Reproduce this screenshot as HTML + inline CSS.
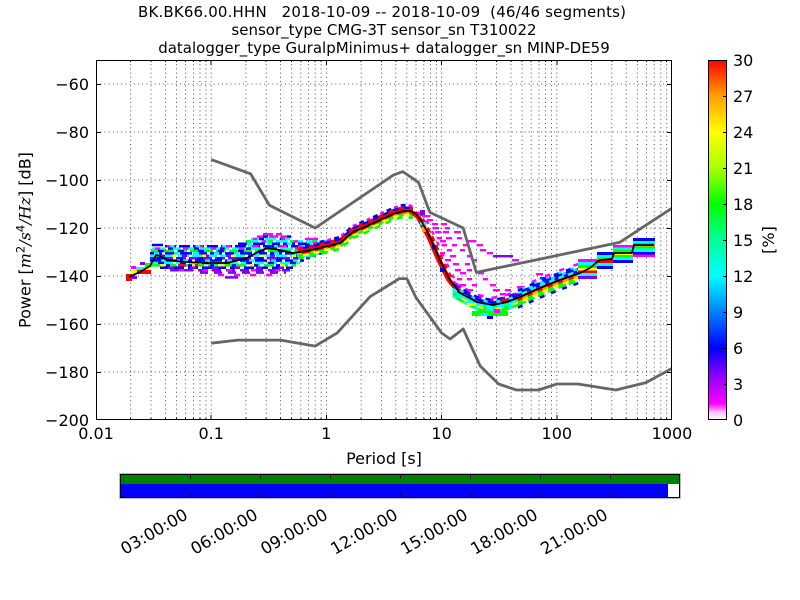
<!DOCTYPE html>
<html><head><meta charset="utf-8"><style>
html,body{margin:0;padding:0;background:#fff;}
svg{display:block;}
text{font-family:"DejaVu Sans","Liberation Sans",sans-serif;fill:#000;}
</style></head><body>
<svg width="800" height="600" viewBox="0 0 800 600" xmlns="http://www.w3.org/2000/svg">
<defs>
<linearGradient id="cb" x1="0" y1="1" x2="0" y2="0">
<stop offset="0" stop-color="#ffffff"/>
<stop offset="0.02" stop-color="#ffc8ff"/>
<stop offset="0.045" stop-color="#ff00ff"/>
<stop offset="0.12" stop-color="#9000ff"/>
<stop offset="0.2" stop-color="#0000ff"/>
<stop offset="0.3" stop-color="#0080ff"/>
<stop offset="0.4" stop-color="#00ffff"/>
<stop offset="0.5" stop-color="#00ff99"/>
<stop offset="0.6" stop-color="#00ff00"/>
<stop offset="0.7" stop-color="#aaff00"/>
<stop offset="0.8" stop-color="#ffff00"/>
<stop offset="0.9" stop-color="#ffa000"/>
<stop offset="1" stop-color="#ff0000"/>
</linearGradient>
<clipPath id="ax"><rect x="96" y="60" width="576" height="360"/></clipPath>
</defs>
<rect width="800" height="600" fill="#fff"/>

<!-- title -->
<g font-size="15" text-anchor="middle">
<text x="382" y="17" textLength="488" lengthAdjust="spacing">BK.BK66.00.HHN&#160;&#160;&#160;2018-10-09 -- 2018-10-09&#160;&#160;(46/46 segments)</text>
<text x="384" y="35">sensor_type CMG-3T sensor_sn T310022</text>
<text x="384" y="53">datalogger_type GuralpMinimus+ datalogger_sn MINP-DE59</text>
</g>

<!-- grid -->
<g stroke="#222" stroke-width="0.8" stroke-dasharray="1 3.2" fill="none">
<path d="M130.7,60V420M151,60V420M165.4,60V420M176.5,60V420M185.6,60V420M193.4,60V420M200,60V420M205.9,60V420M211.2,60V420M245.9,60V420M266.2,60V420M280.6,60V420M291.7,60V420M300.8,60V420M308.6,60V420M315.2,60V420M321.1,60V420M326.4,60V420M361.1,60V420M381.4,60V420M395.8,60V420M406.9,60V420M416,60V420M423.8,60V420M430.4,60V420M436.3,60V420M441.6,60V420M476.3,60V420M496.6,60V420M511,60V420M522.1,60V420M531.2,60V420M539,60V420M545.6,60V420M551.5,60V420M556.8,60V420M591.5,60V420M611.8,60V420M626.2,60V420M637.3,60V420M646.4,60V420M654.2,60V420M660.8,60V420M666.7,60V420"/>
<path d="M96,84H672M96,132H672M96,180H672M96,228H672M96,276H672M96,324H672M96,372H672"/>
</g>

<g clip-path="url(#ax)">
<!-- Region A -->
<g>
<rect x="126" y="274" width="6" height="7" fill="#ff0000"/>
<rect x="132" y="276" width="5" height="3" fill="#8000ff"/>
<rect x="131" y="270" width="6" height="4" fill="#ffff00"/>
<rect x="131" y="266" width="5" height="3" fill="#ff00ff"/>
<rect x="136" y="267" width="9" height="3" fill="#00ffff"/>
<rect x="137" y="270" width="14" height="4" fill="#ff0000"/>
<rect x="140" y="262" width="5" height="3" fill="#8000ff"/>
<rect x="145" y="263" width="7" height="4" fill="#00ff00"/>
<rect x="145" y="267" width="6" height="3" fill="#ffff00"/>
<rect x="150" y="252" width="6" height="3" fill="#ff00ff"/>
<rect x="153" y="257" width="6" height="3" fill="#ffff00"/>
</g>

<!-- Region B rows -->
<g stroke-width="2.5" fill="none">
<line x1="263" x2="282" y1="234.2" y2="234.2" stroke="#ff00ff" stroke-dasharray="10 3"/>
<line x1="257" x2="291" y1="236.6" y2="236.6" stroke="#ff00ff" stroke-dasharray="9 3"/>
<line x1="257" x2="291" y1="236.6" y2="236.6" stroke="#0000ff" stroke-dasharray="5 19" stroke-dashoffset="-6"/>
<line x1="251" x2="293" y1="239" y2="239" stroke="#00ffff" stroke-dasharray="11 3"/>
<line x1="251" x2="293" y1="239" y2="239" stroke="#0000ff" stroke-dasharray="5 16" stroke-dashoffset="-8"/>
<line x1="251" x2="293" y1="239" y2="239" stroke="#ff00ff" stroke-dasharray="4 24" stroke-dashoffset="-2"/>
<line x1="305" x2="318" y1="239" y2="239" stroke="#ff00ff"/>
<line x1="246" x2="340" y1="241.4" y2="241.4" stroke="#00ffff" stroke-dasharray="12 3"/>
<line x1="246" x2="340" y1="241.4" y2="241.4" stroke="#00ff00" stroke-dasharray="5 17"/>
<line x1="246" x2="340" y1="241.4" y2="241.4" stroke="#ff00ff" stroke-dasharray="4 28" stroke-dashoffset="-16"/>
<line x1="238" x2="340" y1="243.8" y2="243.8" stroke="#0000ff" stroke-dasharray="12 3"/>
<line x1="238" x2="340" y1="243.8" y2="243.8" stroke="#00ffff" stroke-dasharray="5 15" stroke-dashoffset="-9"/>
<line x1="152" x2="163" y1="245" y2="245" stroke="#0000ff"/>
<line x1="165" x2="338" y1="246.2" y2="246.2" stroke="#0000ff" stroke-dasharray="11 3"/>
<line x1="165" x2="338" y1="246.2" y2="246.2" stroke="#ff00ff" stroke-dasharray="8 20" stroke-dashoffset="-30"/>
<line x1="165" x2="338" y1="246.2" y2="246.2" stroke="#00ffff" stroke-dasharray="4 22" stroke-dashoffset="-5"/>
<line x1="152" x2="333" y1="248.6" y2="248.6" stroke="#00ffff" stroke-dasharray="13 3"/>
<line x1="152" x2="333" y1="248.6" y2="248.6" stroke="#ff00ff" stroke-dasharray="5 23" stroke-dashoffset="-3"/>
<line x1="152" x2="333" y1="248.6" y2="248.6" stroke="#0000ff" stroke-dasharray="5 21" stroke-dashoffset="-16"/>
<line x1="151" x2="328" y1="251" y2="251" stroke="#00ff00" stroke-dasharray="10 3"/>
<line x1="151" x2="328" y1="251" y2="251" stroke="#0000ff" stroke-dasharray="6 14" stroke-dashoffset="-7"/>
<line x1="150" x2="322" y1="253.4" y2="253.4" stroke="#0000ff" stroke-dasharray="12 3"/>
<line x1="150" x2="322" y1="253.4" y2="253.4" stroke="#00ffff" stroke-dasharray="5 15" stroke-dashoffset="-4"/>
<line x1="150" x2="316" y1="255.8" y2="255.8" stroke="#00ffff" stroke-dasharray="11 3"/>
<line x1="150" x2="316" y1="255.8" y2="255.8" stroke="#8000ff" stroke-dasharray="5 17" stroke-dashoffset="-10"/>
<line x1="150" x2="316" y1="255.8" y2="255.8" stroke="#ffff00" stroke-dasharray="4 26" stroke-dashoffset="-22"/>
<line x1="150" x2="310" y1="258.2" y2="258.2" stroke="#8000ff" stroke-dasharray="10 3"/>
<line x1="150" x2="310" y1="258.2" y2="258.2" stroke="#0000ff" stroke-dasharray="6 14" stroke-dashoffset="-7"/>
<line x1="150" x2="304" y1="260.6" y2="260.6" stroke="#0000ff" stroke-dasharray="12 3"/>
<line x1="150" x2="304" y1="260.6" y2="260.6" stroke="#00ffff" stroke-dasharray="5 17" stroke-dashoffset="-11"/>
<line x1="150" x2="300" y1="263" y2="263" stroke="#00ffff" stroke-dasharray="10 3"/>
<line x1="150" x2="300" y1="263" y2="263" stroke="#0000ff" stroke-dasharray="6 16" stroke-dashoffset="-8"/>
<line x1="152" x2="296" y1="265.4" y2="265.4" stroke="#00ff00" stroke-dasharray="10 4"/>
<line x1="178" x2="202" y1="265.4" y2="265.4" stroke="#ff0000" stroke-dasharray="8 4"/>
<line x1="152" x2="296" y1="265.4" y2="265.4" stroke="#ffff00" stroke-dasharray="5 25" stroke-dashoffset="-8"/>
<line x1="152" x2="296" y1="265.4" y2="265.4" stroke="#0000ff" stroke-dasharray="4 18" stroke-dashoffset="-14"/>
<line x1="160" x2="293" y1="267.8" y2="267.8" stroke="#0000ff" stroke-dasharray="10 4"/>
<line x1="160" x2="293" y1="267.8" y2="267.8" stroke="#8000ff" stroke-dasharray="6 16" stroke-dashoffset="-8"/>
<line x1="170" x2="290" y1="270.2" y2="270.2" stroke="#8000ff" stroke-dasharray="9 5"/>
<line x1="170" x2="290" y1="270.2" y2="270.2" stroke="#ff00ff" stroke-dasharray="5 19" stroke-dashoffset="-9"/>
<line x1="200" x2="286" y1="272.6" y2="272.6" stroke="#8000ff" stroke-dasharray="8 6"/>
<line x1="218" x2="282" y1="275" y2="275" stroke="#ff00ff" stroke-dasharray="6 10"/>
<line x1="225" x2="238" y1="277.4" y2="277.4" stroke="#8000ff"/>
</g>

<!-- Region C -->
<g stroke-width="2.5" fill="none">
<path d="M298,252.5 L307,251 L320,248 L340,243 L353,232 L367,226 L380,220 L393,214 L403,211 L413,212" transform="translate(0,-6)" stroke="#ff00ff" stroke-dasharray="4 11"/>
<path d="M298,252.5 L307,251 L320,248 L340,243 L353,232 L367,226 L380,220 L393,214 L403,211 L413,212" transform="translate(0,-6)" stroke="#0000ff" stroke-dasharray="5 10" stroke-dashoffset="-7"/>
<path d="M298,252.5 L307,251 L320,248 L340,243 L353,232 L367,226 L380,220 L393,214 L403,211 L413,212" transform="translate(0,-3.6)" stroke="#0000ff"/>
<path d="M298,252.5 L307,251 L320,248 L340,243 L353,232 L367,226 L380,220 L393,214 L403,211 L413,212" transform="translate(0,-3.6)" stroke="#ff0000" stroke-dasharray="5 6"/>
<path d="M298,252.5 L307,251 L320,248 L340,243 L353,232 L367,226 L380,220 L393,214 L403,211 L413,212" transform="translate(0,-1.2)" stroke="#ff0000"/>
<path d="M298,252.5 L307,251 L320,248 L340,243 L353,232 L367,226 L380,220 L393,214 L403,211 L413,212" transform="translate(0,1.2)" stroke="#ff0000"/>
<path d="M298,252.5 L307,251 L320,248 L340,243 L353,232 L367,226 L380,220 L393,214 L403,211 L413,212" transform="translate(0,1.2)" stroke="#ffa000" stroke-dasharray="4 9"/>
<path d="M298,252.5 L307,251 L320,248 L340,243 L353,232 L367,226 L380,220 L393,214 L403,211 L413,212" transform="translate(0,3.6)" stroke="#ffff00"/>
<path d="M298,252.5 L307,251 L320,248 L340,243 L353,232 L367,226 L380,220 L393,214 L403,211 L413,212" transform="translate(0,3.6)" stroke="#00ff00" stroke-dasharray="5 6"/>
<path d="M298,252.5 L307,251 L320,248 L340,243 L353,232 L367,226 L380,220 L393,214 L403,211 L413,212" transform="translate(0,6)" stroke="#00ff00" stroke-dasharray="6 6"/>
</g>

<!-- Region D -->
<g stroke-width="2.5" fill="none">
<path d="M413,212 L420,218 L430,237 L440,260 L450,280 L458,290" transform="translate(-2.5,0)" stroke="#ff0000"/>
<path d="M413,212 L420,218 L430,237 L440,260 L450,280 L458,290" stroke="#ff0000" stroke-width="3"/>
<path d="M413,212 L420,218 L430,237 L440,260 L450,280 L458,290" transform="translate(2.5,0)" stroke="#ff0000" stroke-dasharray="5 5"/>
<path d="M413,212 L420,218 L430,237 L440,260 L450,280 L458,290" transform="translate(5,0)" stroke="#ff00ff" stroke-dasharray="4 8"/>
</g>
<g>
<rect x="420" y="210" width="5" height="6" fill="#8000ff"/>
<rect x="420" y="222" width="6" height="3" fill="#00ffff"/>
<rect x="422" y="227" width="5" height="5" fill="#ffa000"/>
<rect x="440" y="268" width="4" height="4" fill="#0000ff"/>
<rect x="432" y="245" width="4" height="4" fill="#0000ff"/>
</g>
<!-- magenta scatter -->
<g fill="#ff00ff">
<rect x="422" y="215" width="8" height="2.4"/><rect x="427" y="219" width="6" height="2.4"/><rect x="432" y="223" width="6" height="2.4"/><rect x="441" y="223" width="6" height="2.4"/>
<rect x="433" y="227" width="6" height="2.4"/><rect x="445" y="227" width="5" height="2.4"/><rect x="435" y="231" width="6" height="2.4"/><rect x="443" y="231" width="6" height="2.4"/><rect x="454" y="231" width="7" height="2.4"/>
<rect x="437" y="237" width="5" height="2.4"/><rect x="446" y="237" width="6" height="2.4"/><rect x="457" y="237" width="5" height="2.4"/><rect x="440" y="240" width="6" height="2.4"/>
<rect x="468" y="240" width="8" height="2.4"/><rect x="442" y="244" width="5" height="2.4"/><rect x="452" y="244" width="5" height="2.4"/><rect x="463" y="244" width="5" height="2.4"/>
<rect x="477" y="244" width="6" height="2.4"/><rect x="447" y="249" width="5" height="2.4"/><rect x="460" y="249" width="5" height="2.4"/><rect x="480" y="249" width="6" height="2.4"/>
<rect x="440" y="252" width="5" height="2.4"/><rect x="487" y="252" width="6" height="2.4"/><rect x="450" y="255" width="6" height="2.4"/><rect x="467" y="255" width="5" height="2.4"/>
<rect x="445" y="259" width="6" height="2.4"/><rect x="473" y="259" width="4" height="2.4"/><rect x="512" y="259" width="7" height="2.4"/><rect x="453" y="263" width="6" height="2.4"/>
<rect x="465" y="263" width="5" height="2.4"/><rect x="455" y="269" width="6" height="2.4"/><rect x="467" y="269" width="5" height="2.4"/><rect x="460" y="272" width="6" height="2.4"/>
<rect x="478" y="272" width="6" height="2.4"/><rect x="457" y="278" width="5" height="2.4"/><rect x="467" y="278" width="5" height="2.4"/><rect x="483" y="278" width="5" height="2.4"/>
<rect x="460" y="284" width="6" height="2.4"/><rect x="472" y="284" width="5" height="2.4"/><rect x="490" y="284" width="6" height="2.4"/><rect x="467" y="289" width="6" height="2.4"/>
<rect x="493" y="289" width="7" height="2.4"/><rect x="505" y="289" width="6" height="2.4"/><rect x="500" y="293" width="6" height="2.4"/><rect x="513" y="293" width="5" height="2.4"/>
<rect x="536" y="273" width="7" height="2.4"/><rect x="545" y="276" width="6" height="2.4"/><rect x="555" y="281" width="6" height="2.4"/><rect x="517" y="286" width="8" height="2.4"/>
</g>
<g fill="#8000ff">
<rect x="493" y="255" width="20" height="2.4"/><rect x="540" y="277" width="6" height="2.4"/><rect x="560" y="283" width="6" height="2.4"/>
</g>

<!-- Region E -->
<g stroke-width="2.5" fill="none">
<path d="M453,289 L460,293 L477,302 L493,305 L507,302 L520,297 L526,294" transform="translate(0,-7.2)" stroke="#ff00ff" stroke-dasharray="6 8"/>
<path d="M453,289 L460,293 L477,302 L493,305 L507,302 L520,297 L526,294" transform="translate(0,-4.8)" stroke="#8000ff" stroke-dasharray="8 4"/>
<path d="M453,289 L460,293 L477,302 L493,305 L507,302 L520,297 L526,294" transform="translate(0,-4.8)" stroke="#0000ff" stroke-dasharray="5 7"/>
<path d="M453,289 L460,293 L477,302 L493,305 L507,302 L520,297 L526,294" transform="translate(0,-2.4)" stroke="#0000ff"/>
<path d="M453,289 L460,293 L477,302 L493,305 L507,302 L520,297 L526,294" transform="translate(0,-2.4)" stroke="#ff0000" stroke-dasharray="10 40"/>
<path d="M453,289 L460,293 L477,302 L493,305 L507,302 L520,297 L526,294" transform="translate(0,-2.4)" stroke="#00ffff" stroke-dasharray="4 9" stroke-dashoffset="5"/>
<path d="M453,289 L460,293 L477,302 L493,305 L507,302 L520,297 L526,294" stroke="#0000ff"/>
<path d="M453,289 L460,293 L477,302 L493,305 L507,302 L520,297 L526,294" stroke="#00ffff" stroke-dasharray="5 7"/>
<path d="M453,289 L460,293 L477,302 L493,305 L507,302 L520,297 L526,294" transform="translate(0,2.4)" stroke="#00ffff"/>
<path d="M453,289 L460,293 L477,302 L493,305 L507,302 L520,297 L526,294" transform="translate(0,2.4)" stroke="#00ff99" stroke-dasharray="5 6"/>
<path d="M453,289 L460,293 L477,302 L493,305 L507,302 L520,297 L526,294" transform="translate(0,4.8)" stroke="#00ffff"/>
<path d="M453,289 L460,293 L477,302 L493,305 L507,302 L520,297 L526,294" transform="translate(0,4.8)" stroke="#00ff00" stroke-dasharray="4 7"/>
<path d="M453,289 L460,293 L477,302 L493,305 L507,302 L520,297 L526,294" transform="translate(0,4.8)" stroke="#ffff00" stroke-dasharray="6 12" stroke-dashoffset="8"/>
<path d="M453,289 L460,293 L477,302 L493,305 L507,302 L520,297 L526,294" transform="translate(0,7.2)" stroke="#00ff00"/>
<path d="M453,289 L460,293 L477,302 L493,305 L507,302 L520,297 L526,294" transform="translate(0,7.2)" stroke="#00ffff" stroke-dasharray="4 8"/>
</g>
<g>
<rect x="472" y="311" width="36" height="5" fill="#00ff00"/>
<rect x="480" y="313" width="8" height="3" fill="#00ffff"/>
<rect x="487" y="316" width="6" height="3" fill="#0000ff"/>
<rect x="494" y="309" width="6" height="4" fill="#ff00ff"/>
<rect x="467" y="303" width="9" height="3" fill="#ffff00"/>
</g>

<!-- Region F narrow band -->
<g stroke-width="2.5" fill="none">
<path d="M518,298 L540,288 L560,280 L580,273" transform="translate(0,-9.6)" stroke="#ff00ff" stroke-dasharray="5 10"/>
<path d="M518,298 L540,288 L560,280 L580,273" transform="translate(0,-7.2)" stroke="#00ffff" stroke-dasharray="8 5"/>
<path d="M518,298 L540,288 L560,280 L580,273" transform="translate(0,-7.2)" stroke="#0000ff" stroke-dasharray="5 8"/>
<path d="M518,298 L540,288 L560,280 L580,273" transform="translate(0,-4.8)" stroke="#0000ff"/>
<path d="M518,298 L540,288 L560,280 L580,273" transform="translate(0,-4.8)" stroke="#00ffff" stroke-dasharray="4 8"/>
<path d="M518,298 L540,288 L560,280 L580,273" transform="translate(0,-2.4)" stroke="#00ffff"/>
<path d="M518,298 L540,288 L560,280 L580,273" transform="translate(0,-2.4)" stroke="#0000ff" stroke-dasharray="4 6"/>
<path d="M518,298 L540,288 L560,280 L580,273" stroke="#ff0000"/>
<path d="M518,298 L540,288 L560,280 L580,273" stroke="#ffa000" stroke-dasharray="4 7"/>
<path d="M518,298 L540,288 L560,280 L580,273" transform="translate(0,2.4)" stroke="#ffa000"/>
<path d="M518,298 L540,288 L560,280 L580,273" transform="translate(0,2.4)" stroke="#ff0000" stroke-dasharray="5 6"/>
<path d="M518,298 L540,288 L560,280 L580,273" transform="translate(0,4.8)" stroke="#ffff00"/>
<path d="M518,298 L540,288 L560,280 L580,273" transform="translate(0,4.8)" stroke="#00ff00" stroke-dasharray="5 6"/>
<path d="M518,298 L540,288 L560,280 L580,273" transform="translate(0,7.2)" stroke="#00ff00" stroke-dasharray="7 4"/>
<path d="M518,298 L540,288 L560,280 L580,273" transform="translate(0,9.6)" stroke="#0000ff" stroke-dasharray="5 7"/>
</g>
<!-- Region F blocks -->
<g>
<rect x="578" y="259" width="19" height="3" fill="#ff00ff"/>
<rect x="578" y="262" width="19" height="3" fill="#00ffff"/>
<rect x="578" y="265" width="19" height="3" fill="#00ff00"/>
<rect x="578" y="268" width="19" height="2.5" fill="#ffff00"/>
<rect x="578" y="270.5" width="19" height="2.5" fill="#ff0000"/>
<rect x="578" y="273" width="19" height="3" fill="#00ffff"/>
<rect x="578" y="276" width="19" height="3" fill="#8000ff"/>
<rect x="597" y="252" width="16" height="3" fill="#0000ff"/>
<rect x="597" y="255" width="16" height="2.5" fill="#00ffff"/>
<rect x="597" y="257.5" width="16" height="2.5" fill="#00ff00"/>
<rect x="597" y="260" width="16" height="3" fill="#ff0000"/>
<rect x="597" y="263" width="16" height="3" fill="#00ffff"/>
<rect x="597" y="266" width="16" height="3" fill="#0000ff"/>
<rect x="613" y="245" width="20" height="2.5" fill="#ff00ff"/>
<rect x="613" y="247.5" width="20" height="2" fill="#00ffff"/>
<rect x="613" y="249.5" width="20" height="2.5" fill="#00ff00"/>
<rect x="613" y="252" width="20" height="3" fill="#ffff00"/>
<rect x="613" y="255" width="20" height="2.5" fill="#00ff00"/>
<rect x="613" y="257.5" width="20" height="2.5" fill="#00ffff"/>
<rect x="613" y="260" width="20" height="3" fill="#0000ff"/>
<rect x="633" y="238" width="22" height="3" fill="#0000ff"/>
<rect x="633" y="241" width="22" height="2" fill="#00ffff"/>
<rect x="633" y="243" width="22" height="1.5" fill="#00ff00"/>
<rect x="633" y="244.5" width="22" height="2" fill="#ffa000"/>
<rect x="633" y="246.5" width="22" height="2" fill="#00ff00"/>
<rect x="633" y="248.5" width="22" height="3.5" fill="#00ffff"/>
<rect x="633" y="252" width="22" height="2.5" fill="#0000ff"/>
<rect x="633" y="254.5" width="22" height="2.5" fill="#ff00ff"/>
</g>

<!-- noise models -->
<g fill="none" stroke="#666" stroke-width="2.8" stroke-linejoin="round">
<path d="M211.2,159.6 L250.6,173.8 L269.4,205.2 L315.2,228 L393.2,175.2 L402.8,171.6 L418.5,182.4 L429.9,212.4 L463.2,228 L476.3,272.4 L619.6,242.4 L672,208.2"/>
<path d="M211.2,343.2 L237.7,340.1 L280.6,340.1 L315.2,346.1 L337.2,332.9 L370.2,296.6 L399.4,278.6 L406.9,278.6 L416,297.6 L441.6,333 L450.1,339 L463.2,329 L480.2,366 L498.6,384 L516.4,390 L538.5,390 L556.9,384 L578,384 L615.8,390 L646,382.6 L672,368.4"/>
</g>

<!-- mean line -->
<path d="M129,277 L140,272 L150,266 L156,255 L160,256 L167,260 L187,262 L207,263 L227,263 L247,258 L258,252 L267,248 L280,250 L293,253 L307,251 L320,248 L340,243 L353,232 L367,226 L380,220 L393,214 L403,211 L411,211 L416,214 L422,222 L430,237 L440,260 L450,280 L460,293 L477,302 L493,305 L507,302 L520,297 L540,288 L560,280 L580,273 L590,268 L597,262 L600,260 L612,259 L614,253 L632,253 L634,245 L654,245" fill="none" stroke="#000" stroke-width="1.8" stroke-linejoin="round"/>
</g>

<!-- axes frame and ticks -->
<g fill="none" stroke="#000" stroke-width="1" shape-rendering="crispEdges">
<rect x="96.5" y="60.5" width="575" height="359"/>
<path d="M211.2,420V415M326.4,420V415M441.6,420V415M556.8,420V415M211.2,60V65M326.4,60V65M441.6,60V65M556.8,60V65"/>
<path d="M130.7,420V418M151,420V418M165.4,420V418M176.5,420V418M185.6,420V418M193.4,420V418M200,420V418M205.9,420V418M245.9,420V418M266.2,420V418M280.6,420V418M291.7,420V418M300.8,420V418M308.6,420V418M315.2,420V418M321.1,420V418M361.1,420V418M381.4,420V418M395.8,420V418M406.9,420V418M416,420V418M423.8,420V418M430.4,420V418M436.3,420V418M476.3,420V418M496.6,420V418M511,420V418M522.1,420V418M531.2,420V418M539,420V418M545.6,420V418M551.5,420V418M591.5,420V418M611.8,420V418M626.2,420V418M637.3,420V418M646.4,420V418M654.2,420V418M660.8,420V418M666.7,420V418"/>
<path d="M130.7,60V62M151,60V62M165.4,60V62M176.5,60V62M185.6,60V62M193.4,60V62M200,60V62M205.9,60V62M245.9,60V62M266.2,60V62M280.6,60V62M291.7,60V62M300.8,60V62M308.6,60V62M315.2,60V62M321.1,60V62M361.1,60V62M381.4,60V62M395.8,60V62M406.9,60V62M416,60V62M423.8,60V62M430.4,60V62M436.3,60V62M476.3,60V62M496.6,60V62M511,60V62M522.1,60V62M531.2,60V62M539,60V62M545.6,60V62M551.5,60V62M591.5,60V62M611.8,60V62M626.2,60V62M637.3,60V62M646.4,60V62M654.2,60V62M660.8,60V62M666.7,60V62"/>
<path d="M96,84.5H101M96,132.5H101M96,180.5H101M96,228.5H101M96,276.5H101M96,324.5H101M96,372.5H101M672,84.5H667M672,132.5H667M672,180.5H667M672,228.5H667M672,276.5H667M672,324.5H667M672,372.5H667"/>
</g>

<!-- tick labels -->
<g font-size="16" text-anchor="middle">
<text x="96" y="439">0.01</text>
<text x="211.2" y="439">0.1</text>
<text x="326.4" y="439">1</text>
<text x="441.6" y="439">10</text>
<text x="556.8" y="439">100</text>
<text x="672" y="439">1000</text>
<text x="384" y="464">Period [s]</text>
</g>
<g font-size="16" text-anchor="end">
<text x="89" y="90">−60</text>
<text x="89" y="138">−80</text>
<text x="89" y="186">−100</text>
<text x="89" y="234">−120</text>
<text x="89" y="282">−140</text>
<text x="89" y="330">−160</text>
<text x="89" y="378">−180</text>
<text x="89" y="426">−200</text>
</g>
<text font-size="16" text-anchor="middle" transform="translate(30.5,240) rotate(-90)">Power [<tspan font-family="DejaVu Serif" font-style="italic">m</tspan><tspan font-size="11.5" dy="-6">2</tspan><tspan dy="6" font-family="DejaVu Serif" font-style="italic">/s</tspan><tspan font-size="11.5" dy="-6">4</tspan><tspan dy="6" font-family="DejaVu Serif" font-style="italic">/Hz</tspan>] [dB]</text>

<!-- colorbar -->
<rect x="708" y="60" width="19" height="360" fill="url(#cb)"/>
<rect x="708.5" y="60.5" width="18" height="359" fill="none" stroke="#000" stroke-width="1" shape-rendering="crispEdges"/>
<path d="M727,96.5H723M727,132.5H723M727,168.5H723M727,204.5H723M727,240.5H723M727,276.5H723M727,312.5H723M727,348.5H723M727,384.5H723" stroke="#000" stroke-width="1" shape-rendering="crispEdges"/>
<g font-size="16">
<text x="733" y="66">30</text>
<text x="733" y="102">27</text>
<text x="733" y="138">24</text>
<text x="733" y="174">21</text>
<text x="733" y="210">18</text>
<text x="733" y="246">15</text>
<text x="733" y="282">12</text>
<text x="733" y="318">9</text>
<text x="733" y="354">6</text>
<text x="733" y="390">3</text>
<text x="733" y="426">0</text>
</g>
<text font-size="16" text-anchor="middle" transform="translate(774,240) rotate(-90)">[%]</text>

<!-- timeline bar -->
<rect x="120" y="474" width="560" height="10" fill="#008000"/>
<rect x="120" y="484" width="548" height="14" fill="#0000ff"/>
<rect x="119.5" y="473.5" width="561" height="25" fill="none" stroke="#bbb" stroke-width="1"/>
<rect x="120.5" y="474.5" width="559" height="23" fill="none" stroke="#000" stroke-width="1" shape-rendering="crispEdges"/>
<path d="M190.5,474V479M260.5,474V479M330.5,474V479M400.5,474V479M470.5,474V479M540.5,474V479M610.5,474V479M190.5,498V493M260.5,498V493M330.5,498V493M400.5,498V493M470.5,498V493M540.5,498V493M610.5,498V493" stroke="#000" stroke-width="1" shape-rendering="crispEdges"/>
<g font-size="16.5" text-anchor="end">
<text transform="translate(189,518) rotate(-30)">03:00:00</text>
<text transform="translate(259,518) rotate(-30)">06:00:00</text>
<text transform="translate(329,518) rotate(-30)">09:00:00</text>
<text transform="translate(399,518) rotate(-30)">12:00:00</text>
<text transform="translate(469,518) rotate(-30)">15:00:00</text>
<text transform="translate(539,518) rotate(-30)">18:00:00</text>
<text transform="translate(609,518) rotate(-30)">21:00:00</text>
</g>
</svg>
</body></html>
